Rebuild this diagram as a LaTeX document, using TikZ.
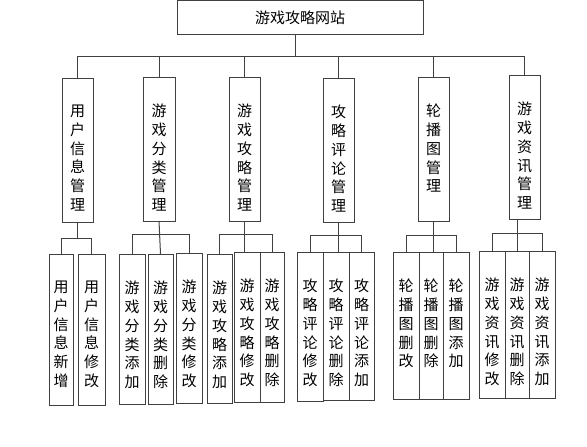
\documentclass[tikz,border=0pt]{standalone}
\usepackage{fontspec}
\newfontfamily\cjk{Noto Sans CJK SC}
\definecolor{linec}{gray}{0.25}
\tikzset{
  ln/.style={draw=linec, line width=1pt},
  bx/.style={draw=linec, line width=1pt, inner sep=0pt, outer sep=0pt,
    font=\cjk\fontsize{15}{18.8}\selectfont},
}
\newcommand\bxn[6]{\node[bx] (#1) at ({(#2+#4)/2},{(#3+#5)/2})
  {\parbox[c][\dimexpr#5pt-#3pt\relax][t]{\dimexpr#4pt-#2pt\relax}{\centering\vspace*{27pt}#6\par}};}
\begin{document}
\begin{tikzpicture}[x=1pt,y=-1pt]
\useasboundingbox[fill=white] (0,0) rectangle (587,447);
\node[bx, minimum width=246pt, minimum height=34pt] (top) at (300,17.5) {游戏攻略网站};
% level 2
\bxn{L1}{62}{78}{93}{222}{用\\户\\信\\息\\管\\理}
\bxn{L2}{143}{77}{175}{221}{游\\戏\\分\\类\\管\\理}
\bxn{L3}{229}{77}{260}{221}{游\\戏\\攻\\略\\管\\理}
\bxn{L4}{323}{78}{354}{222}{攻\\略\\评\\论\\管\\理}
\bxn{L5}{418}{77}{449}{221}{轮\\播\\图\\管\\理}
\bxn{L6}{509}{75}{540}{219}{游\\戏\\资\\讯\\管\\理}
% level 3
\bxn{a1}{49}{254}{73}{405}{用\\户\\信\\息\\新\\增}
\bxn{a2}{78}{254}{105}{405}{用\\户\\信\\息\\修\\改}
\bxn{b1}{119}{254}{145}{404}{游\\戏\\分\\类\\添\\加}
\bxn{b2}{148}{254}{173}{404}{游\\戏\\分\\类\\删\\除}
\bxn{b3}{176}{253}{202}{403}{游\\戏\\分\\类\\修\\改}
\bxn{c1}{207}{254}{232}{403}{游\\戏\\攻\\略\\添\\加}
\bxn{c2}{234}{252}{260}{402}{游\\戏\\攻\\略\\修\\改}
\bxn{c3}{260}{252}{284}{402}{游\\戏\\攻\\略\\删\\除}
\bxn{d1}{297}{252}{323}{401}{攻\\略\\评\\论\\修\\改}
\bxn{d2}{323}{252}{349}{400}{攻\\略\\评\\论\\删\\除}
\bxn{d3}{349}{252}{374}{400}{攻\\略\\评\\论\\添\\加}
\bxn{e1}{393}{252}{419}{399}{轮\\播\\图\\删\\改}
\bxn{e2}{419}{252}{443}{399}{轮\\播\\图\\删\\除}
\bxn{e3}{443}{252}{469}{399}{轮\\播\\图\\添\\加}
\bxn{f1}{479}{251}{505}{398}{游\\戏\\资\\讯\\修\\改}
\bxn{f2}{505}{251}{529}{398}{游\\戏\\资\\讯\\删\\除}
\bxn{f3}{529}{251}{555}{398}{游\\戏\\资\\讯\\添\\加}
% bus level 1
\coordinate (bus) at (295,56);
\draw[ln] (top.south -| bus) -- (bus);
\draw[ln] (L1.north |- bus) -- (L6.north |- bus);
\foreach \n in {L1,L2,L3,L4,L5,L6} \draw[ln] (\n.north) -- (\n.north |- bus);
% level 3 buses
\coordinate (ga) at (0,238);
\coordinate (gb) at (0,234);
\coordinate (gc) at (0,234);
\coordinate (gd) at (0,235);
\coordinate (ge) at (0,235);
\coordinate (gf) at (0,233);
\draw[ln] (L1.south) -- (L1.south |- ga);
\draw[ln] (a1.north |- ga) -- (a2.north |- ga);
\foreach \n in {a1,a2} \draw[ln] (\n.north) -- (\n.north |- ga);
\draw[ln] (L2.south) -- (b2.north);
\draw[ln] (b1.north |- gb) -- (b3.north |- gb);
\foreach \n in {b1,b3} \draw[ln] (\n.north) -- (\n.north |- gb);
\draw[ln] (L3.south) -- (L3.south |- c2.north);
\draw[ln] (c1.north |- gc) -- (c3.north |- gc);
\foreach \n in {c1,c3} \draw[ln] (\n.north) -- (\n.north |- gc);
\draw[ln] (L4.south) -- (L4.south |- d2.north);
\draw[ln] (d1.north |- gd) -- (d3.north |- gd);
\foreach \n in {d1,d3} \draw[ln] (\n.north) -- (\n.north |- gd);
\draw[ln] (L5.south) -- (L5.south |- e2.north);
\draw[ln] (e1.north |- ge) -- (e3.north |- ge);
\foreach \n in {e1,e3} \draw[ln] (\n.north) -- (\n.north |- ge);
\draw[ln] (L6.south -| f2.north) -- (f2.north);
\draw[ln] (f1.north |- gf) -- (f3.north |- gf);
\foreach \n in {f1,f3} \draw[ln] (\n.north) -- (\n.north |- gf);
\end{tikzpicture}
\end{document}
